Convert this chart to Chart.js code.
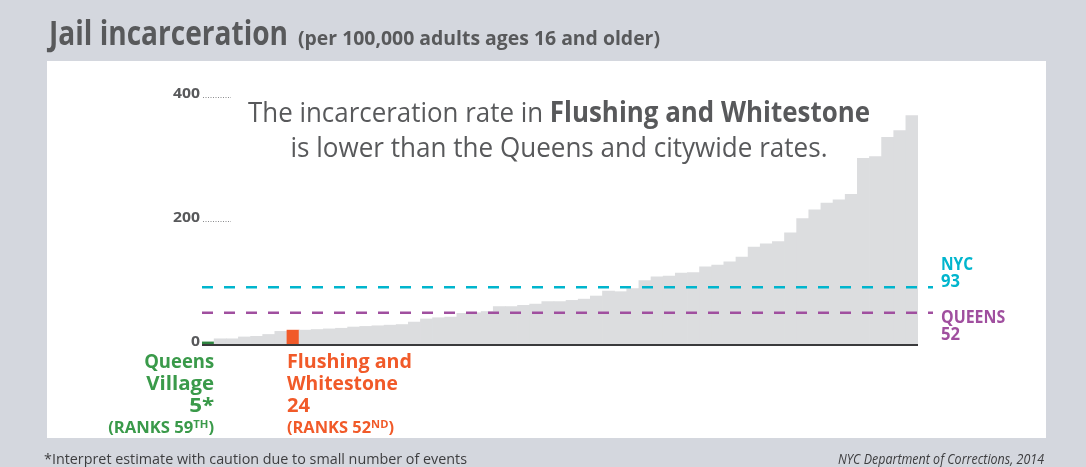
<!DOCTYPE html>
<html>
<head>
<meta charset="utf-8">
<script src="https://cdn.jsdelivr.net/npm/chart.js@4.4.1/dist/chart.umd.min.js"></script>
<style>
    html, body { margin: 0; padding: 0; }
    body { width: 1086px; height: 467px; background: #d4d7de; position: relative; overflow: hidden; }
    #painel { position: absolute; left: 47px; top: 61px; width: 999px; height: 377px; background: #ffffff; }
    #grafico { position: absolute; left: 0; top: 0; }
</style>
</head>
<body>
<div id="painel"></div>
<canvas id="grafico" width="1086" height="467"></canvas>
<script>
// Taxas por distrito (ordenadas da menor para a maior)
const taxas = [
    5, 10, 10, 13, 14, 17, 22, 24, 24, 25,
    26, 27, 29, 30, 31, 32, 33, 37, 42, 44,
    45, 51, 52, 54, 62, 62, 64, 66, 70, 70,
    72, 74, 79, 87, 86, 91, 104, 110, 111, 116,
    117, 126, 129, 134, 142, 158, 163, 167, 181, 204,
    218, 229, 234, 243, 301, 304, 335, 346, 370
];
const ranks = taxas.map((_, i) => taxas.length - i);
const marcasY = [0, 200, 400];

const nomesReferencia = ['NYC', 'QUEENS'];
const valoresReferencia = [93, 52];
const coresReferencia = ['#00b5cd', '#a04f9f'];

const indiceQueensVillage = 0;
const indiceFlushing = 7;

const CINZA = '#dcdddf';
const VERDE_BARRA = '#2f8540';
const VERDE = '#3a9a4a';
const LARANJA = '#f15a29';
const TEXTO = '#58595b';
const FONTE = '"Open Sans", "Noto Sans", sans-serif';

const coresBarras = taxas.map((_, i) => {
    if (i === indiceQueensVillage) return VERDE_BARRA;
    if (i === indiceFlushing) return LARANJA;
    return CINZA;
});

// escreve varios trechos numa linha, ajustando a largura final
function escreve(ctx, partes, x, y, alinhamento, largura) {
    let total = 0;
    partes.forEach(p => { ctx.font = p[1]; total += ctx.measureText(p[0]).width; });
    const esc = largura ? largura / total : 1;
    let inicio = x;
    if (alinhamento === 'right') inicio = x - total * esc;
    else if (alinhamento === 'center') inicio = x - total * esc / 2;
    ctx.save();
    ctx.translate(inicio, y);
    ctx.scale(esc, 1);
    ctx.textAlign = 'left';
    ctx.textBaseline = 'alphabetic';
    let cx = 0;
    partes.forEach(p => {
        ctx.font = p[1];
        ctx.fillStyle = p[2];
        ctx.fillText(p[0], cx, p[3] || 0);
        cx += ctx.measureText(p[0]).width;
    });
    ctx.restore();
}

const desenhoExtra = {
    id: 'desenhoExtra',
    afterDatasetsDraw(chart) {
        const ctx = chart.ctx;
        const area = chart.chartArea;
        const x = chart.scales.x;
        const y = chart.scales.y;
        const meiaBarra = (x.getPixelForValue(1) - x.getPixelForValue(0)) / 2;

        // linha de base
        ctx.save();
        ctx.strokeStyle = '#3a3a3c';
        ctx.lineWidth = 2;
        ctx.beginPath();
        ctx.moveTo(area.left, y.getPixelForValue(0));
        ctx.lineTo(area.right, y.getPixelForValue(0));
        ctx.stroke();
        ctx.restore();

        // marcas do eixo y com pontilhado
        marcasY.forEach(v => {
            const py = y.getPixelForValue(v);
            escreve(ctx, [[String(v), 'bold 14px ' + FONTE, TEXTO]], area.left - 2, py + 1, 'right', String(v).length * 9);
            if (v > 0) {
                ctx.save();
                ctx.strokeStyle = '#8a8b8d';
                ctx.lineWidth = 1;
                ctx.setLineDash([1, 1.5]);
                ctx.beginPath();
                ctx.moveTo(area.left + 1, Math.round(py) + 0.5);
                ctx.lineTo(area.left + 29, Math.round(py) + 0.5);
                ctx.stroke();
                ctx.restore();
            }
        });

        // linhas de referencia
        valoresReferencia.forEach((v, i) => {
            const py = y.getPixelForValue(v);
            ctx.save();
            ctx.strokeStyle = coresReferencia[i];
            ctx.lineWidth = 2.5;
            ctx.setLineDash([11, 11]);
            ctx.beginPath();
            ctx.moveTo(area.left, py);
            ctx.lineTo(area.right + 15, py);
            ctx.stroke();
            ctx.restore();
            const fonte = 'bold 17px ' + FONTE;
            const y1 = i === 0 ? py - 17 : py + 10;
            escreve(ctx, [[nomesReferencia[i], fonte, coresReferencia[i]]], area.right + 23, y1, 'left', nomesReferencia[i].length * 10.7);
            escreve(ctx, [[String(v), fonte, coresReferencia[i]]], area.right + 23, y1 + 17, 'left', 19);
        });

        // rotulos dos distritos destacados
        const fonteNome = 'bold 20px ' + FONTE;
        const fonteRank = 'bold 15.5px ' + FONTE;
        const fonteSup = 'bold 10.5px ' + FONTE;
        const xq = x.getPixelForValue(indiceQueensVillage) + meiaBarra;
        escreve(ctx, [['Queens', fonteNome, VERDE]], xq, 368, 'right', 70);
        escreve(ctx, [['Village', fonteNome, VERDE]], xq, 390, 'right', 68);
        escreve(ctx, [[taxas[indiceQueensVillage] + '*', fonteNome, VERDE]], xq, 412, 'right', 25);
        escreve(ctx, [['(RANKS ' + ranks[indiceQueensVillage], fonteRank, VERDE], ['TH', fonteSup, VERDE, -5], [')', fonteRank, VERDE]], xq, 433, 'right', 106);

        const xf = x.getPixelForValue(indiceFlushing) - meiaBarra;
        escreve(ctx, [['Flushing and', fonteNome, LARANJA]], xf, 368, 'left', 125);
        escreve(ctx, [['Whitestone', fonteNome, LARANJA]], xf, 390, 'left', 111);
        escreve(ctx, [[String(taxas[indiceFlushing]), fonteNome, LARANJA]], xf, 412, 'left', 23);
        escreve(ctx, [['(RANKS ' + ranks[indiceFlushing], fonteRank, LARANJA], ['ND', fonteSup, LARANJA, -5], [')', fonteRank, LARANJA]], xf, 433, 'left', 107);
    },
    afterDraw(chart) {
        const ctx = chart.ctx;
        // titulo
        escreve(ctx, [['Jail incarceration', 'bold 34px ' + FONTE, TEXTO]], 49, 45, 'left', 239);
        escreve(ctx, [['(per 100,000 adults ages 16 and older)', 'bold 19px ' + FONTE, TEXTO]], 298, 45, 'left', 362);

        // anotacao
        escreve(ctx, [
            ['The incarceration rate in ', '28px ' + FONTE, TEXTO],
            ['Flushing and Whitestone', 'bold 28px ' + FONTE, TEXTO]
        ], 559, 122, 'center', 622);
        escreve(ctx, [['is lower than the Queens and citywide rates.', '28px ' + FONTE, TEXTO]], 559, 157, 'center', 537);

        // rodape
        escreve(ctx, [['*Interpret estimate with caution due to small number of events', '15px ' + FONTE, '#3d3d3f']], 44, 464, 'left', 423);
        escreve(ctx, [['NYC Department of Corrections, 2014', 'italic 15px ' + FONTE, '#3d3d3f']], 1044, 464, 'right', 206);
    }
};

new Chart(document.getElementById('grafico'), {
    type: 'bar',
    data: {
        labels: ranks,
        datasets: [{
            data: taxas,
            backgroundColor: coresBarras,
            borderWidth: 0,
            barPercentage: 1,
            categoryPercentage: 1
        }]
    },
    options: {
        responsive: false,
        animation: false,
        layout: {
            padding: { left: 202, right: 168, top: 97, bottom: 122 }
        },
        plugins: {
            legend: { display: false },
            tooltip: { enabled: false }
        },
        scales: {
            x: { display: false },
            y: { display: false, min: 0, max: 400 }
        }
    },
    plugins: [desenhoExtra]
});
</script>
</body>
</html>
